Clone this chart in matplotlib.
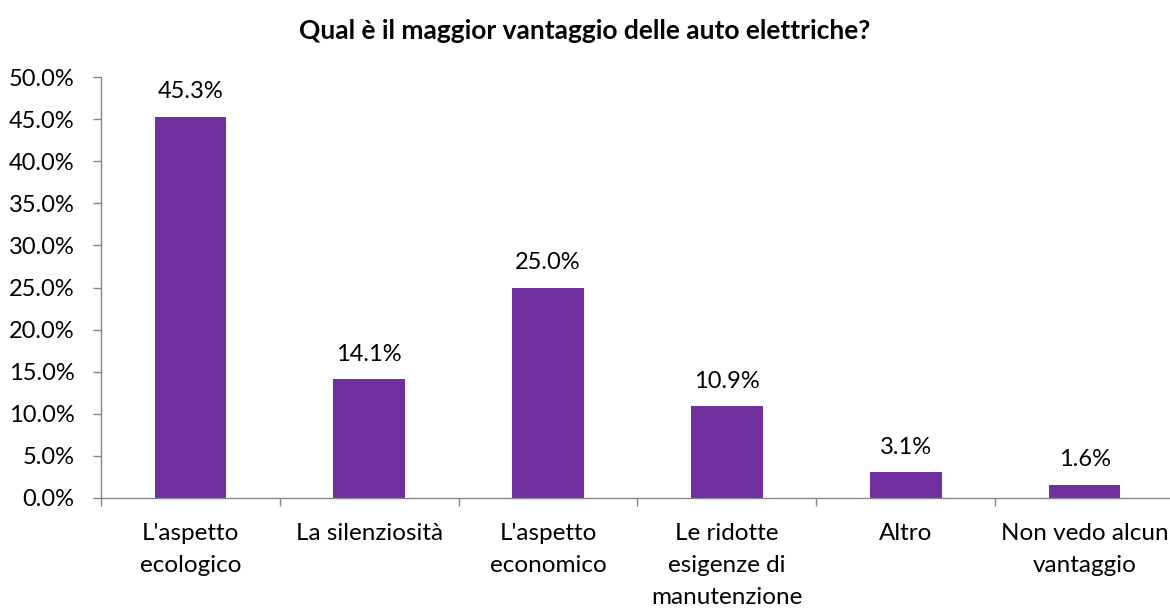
import matplotlib.pyplot as plt
from matplotlib.ticker import PercentFormatter, MultipleLocator

categories = [
    "L'aspetto\necologico",
    "La silenziosità",
    "L'aspetto\neconomico",
    "Le ridotte\nesigenze di\nmanutenzione",
    "Altro",
    "Non vedo alcun\nvantaggio",
]
values = [45.3, 14.1, 25.0, 10.9, 3.1, 1.6]

BAR_COLOR = "#7030A0"
AXIS_COLOR = "#868686"

plt.rcParams["font.family"] = ["Lato", "DejaVu Sans"]


def main() -> None:
    fig = plt.figure(figsize=(11.7, 6.08), dpi=100, facecolor="white")
    ax = fig.add_axes([101 / 1170, 1 - 498 / 608, 1073 / 1170, 421 / 608])

    x = range(len(categories))
    ax.bar(x, values, width=0.40, color=BAR_COLOR, zorder=2)

    for xi, v in zip(x, values):
        ax.text(xi, v + 1.7, f"{v:.1f}%", ha="center", va="bottom",
                fontsize=17, color="black")

    ax.set_xlim(-0.5, len(categories) - 0.5)
    ax.set_ylim(0, 50)
    ax.yaxis.set_major_locator(MultipleLocator(5))
    ax.yaxis.set_major_formatter(PercentFormatter(decimals=1))

    ax.set_xticks([i - 0.5 for i in range(len(categories) + 1)])
    ax.set_xticklabels([])
    ax.set_xticks(list(x), minor=True)
    ax.set_xticklabels(categories, minor=True, fontsize=17.5, linespacing=1.65)
    ax.tick_params(axis="x", which="minor", length=0, pad=18)
    ax.tick_params(axis="x", which="major", length=6, color=AXIS_COLOR, width=1)
    ax.tick_params(axis="y", length=6, color=AXIS_COLOR, width=1,
                   labelsize=17, pad=13)

    for side in ("top", "right"):
        ax.spines[side].set_visible(False)
    for side in ("left", "bottom"):
        ax.spines[side].set_color(AXIS_COLOR)
        ax.spines[side].set_linewidth(1)

    fig.text(0.5, 1 - 31 / 608, "Qual è il maggior vantaggio delle auto elettriche?",
             ha="center", va="center", fontsize=19, fontweight="bold")

    fig.savefig("out.png", dpi=100, facecolor="white")
    plt.close(fig)


if __name__ == "__main__":
    main()
